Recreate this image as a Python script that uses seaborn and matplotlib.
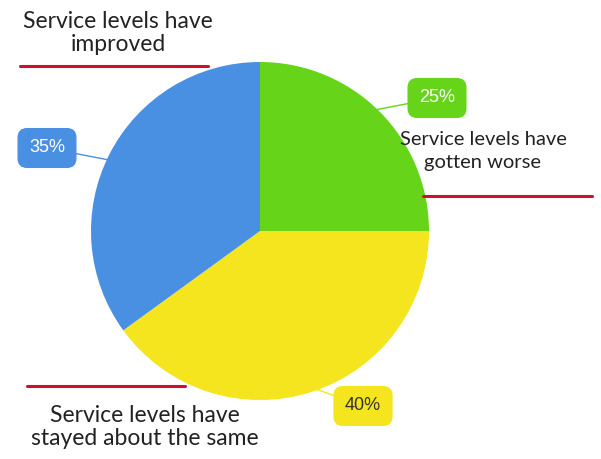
import matplotlib.pyplot as plt
import numpy as np
import seaborn as sns

# data
categories = ['Service levels have\ngotten worse',
              'Service levels have\nstayed about the same',
              'Service levels have\nimproved']
shares = [25, 40, 35]
pct_labels = ['25%', '40%', '35%']
colors = ['#66D418', '#F4E51E', '#4A90E2']
pct_text_colors = ['#FFFFFF', '#333333', '#FFFFFF']

sns.set_style("white")
plt.rcParams['font.family'] = ['Lato', 'DejaVu Sans']

W, H = 601, 459
fig = plt.figure(figsize=(W / 100, H / 100), dpi=100)
ax = fig.add_axes([0, 0, 1, 1])

cx, cy, r = 260, H - 231, 169
wedges, _ = ax.pie(shares, colors=colors, startangle=90, counterclock=False,
                   center=(cx, cy), radius=r, frame=True,
                   wedgeprops=dict(linewidth=0))
ax.set_xlim(0, W)
ax.set_ylim(0, H)
ax.axis('off')

#%% percentage callouts
# (box centre in pixels, angle on the pie edge the pointer goes to)
callouts = [((437, 98), 46), ((363, 406), -70), ((47, 148), 155)]
for w, lab, tc, col, (pos, ang) in zip(wedges, pct_labels, pct_text_colors, colors, callouts):
    ex = cx + r * np.cos(np.radians(ang))
    ey = cy + r * np.sin(np.radians(ang))
    ax.annotate(lab, xy=(ex, ey), xytext=(pos[0], H - pos[1]),
                ha='center', va='center', fontsize=13, color=tc,
                family=['Liberation Sans', 'DejaVu Sans'],
                bbox=dict(boxstyle='round,pad=0.6,rounding_size=0.5', fc=col, ec=col),
                arrowprops=dict(arrowstyle='-', color=col, lw=1,
                                shrinkA=0, shrinkB=0))

#%% category labels with red rules
label_pos = [(483, 151), (145, 427), (118, 33)]
label_sizes = [14.5, 16.5, 16.5]
label_spacing = [1.45, 1.15, 1.15]
rules = [(423, 592, 196), (27, 185, 386), (20, 208, 66)]
for cat, (lx, ly), fs, ls, (x0, x1, yy) in zip(categories, label_pos, label_sizes,
                                               label_spacing, rules):
    ax.text(lx, H - ly, cat, ha='center', va='center', fontsize=fs,
            color='#222222', linespacing=ls)
    ax.plot([x0, x1], [H - yy, H - yy], color='#D0102A', lw=2.2)

fig.savefig('out.png', dpi=100)
